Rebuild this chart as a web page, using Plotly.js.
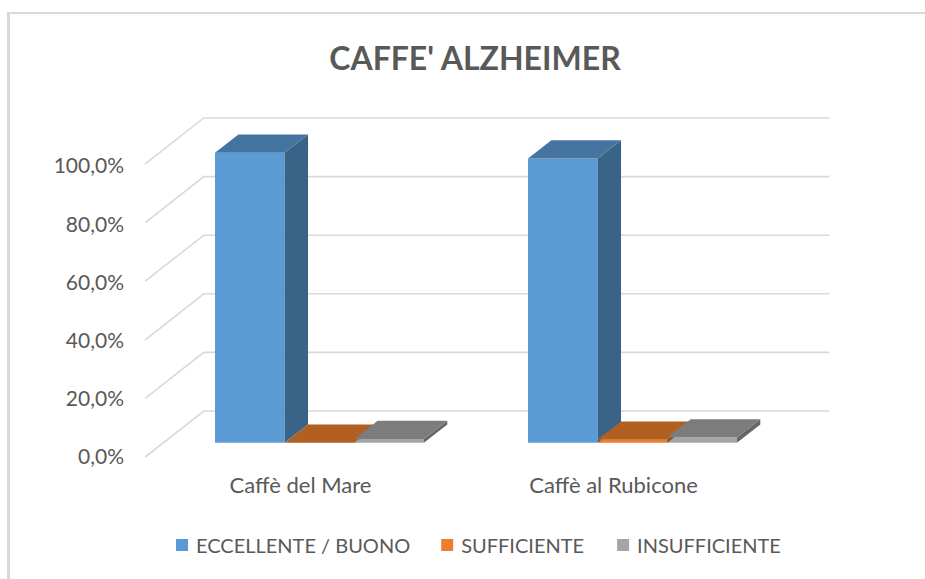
<!DOCTYPE html>
<html>
<head>
<meta charset="utf-8">
<script src="https://cdn.plot.ly/plotly-3.0.1.min.js"></script>
<style>
html,body{margin:0;padding:0;background:#fff;overflow:hidden}
#frame{position:absolute;left:7px;top:12px;right:0;bottom:0;border-left:3px solid #D9D9D9;border-top:2px solid #D9D9D9}
#chart{position:absolute;left:0;top:0;width:925px;height:579px}
</style>
</head>
<body>
<div id="frame"></div>
<div id="chart"></div>
<script>
// Data
const categories = ["Caffè del Mare", "Caffè al Rubicone"];
const seriesNames = ["ECCELLENTE / BUONO", "SUFFICIENTE", "INSUFFICIENTE"];
const eccellente = [100, 98];
const sufficiente = [0, 1];
const insufficiente = [1.3, 1.8];
const tickValues = [0, 20, 40, 60, 80, 100];
const tickLabels = ["0,0%", "20,0%", "40,0%", "60,0%", "80,0%", "100,0%"];

// Styles
const frontColors = ["#5B9BD5", "#ED7D31", "#A5A5A5"];
const topColors = ["#44749F", "#B25F22", "#7C7C7C"];
const sideColors = ["#3A6487", "#8F4C1C", "#666666"];
const textColor = "#595959";
const gridColor = "#D9D9D9";
const fontFamily = "Lato, sans-serif";

// Pseudo-3D geometry in axis units
const barWidth = 0.2225, barOffset = -0.2732, depthX = 0.0748, depthY = 6.28;
const wallFrontX = -0.496, wallBackX = -0.309, wallRightX = 1.69, wallDepth = 15.8, wallScale = 1.007;

const allSeries = [eccellente, sufficiente, insufficiente];
const traces = [];

tickValues.forEach(v => traces.push({
  type: "scatter", mode: "lines", xaxis: "x", yaxis: "y",
  x: [wallFrontX, wallBackX, wallRightX],
  y: [v * wallScale, v * wallScale + wallDepth, v * wallScale + wallDepth],
  line: {color: gridColor, width: 1.6}, showlegend: false, hoverinfo: "skip"
}));
allSeries.forEach((vals, s) => {
  const xs = categories.map((_, c) => c + barOffset + s * barWidth + barWidth / 2);
  traces.push({
    type: "bar", name: seriesNames[s], xaxis: "x", yaxis: "y2",
    x: xs, y: vals, width: barWidth,
    marker: {color: frontColors[s], line: {width: 0}}, hoverinfo: "skip"
  });
});
allSeries.forEach((vals, s) => {
  vals.forEach((v, c) => {
    const xL = c + barOffset + s * barWidth, xR = xL + barWidth;
    traces.push({
      type: "scatter", mode: "lines", fill: "toself", xaxis: "x", yaxis: "y2",
      x: [xR, xR + depthX, xR + depthX, xR, xR],
      y: [0, depthY, v + depthY, v, 0],
      fillcolor: sideColors[s], line: {width: 0}, showlegend: false, hoverinfo: "skip"
    });
    traces.push({
      type: "scatter", mode: "lines", fill: "toself", xaxis: "x", yaxis: "y2",
      x: [xL, xR, xR + depthX, xL + depthX, xL],
      y: [v, v, v + depthY, v + depthY, v],
      fillcolor: topColors[s], line: {width: 0}, showlegend: false, hoverinfo: "skip"
    });
  });
});

const layout = {
  width: 925, height: 579,
  margin: {l: 125, r: 85, t: 100, b: 109, pad: 0, autoexpand: false},
  paper_bgcolor: "rgba(0,0,0,0)", plot_bgcolor: "rgba(0,0,0,0)",
  font: {family: fontFamily, color: textColor, size: 18},
  title: {
    text: "<b>CAFFE' ALZHEIMER</b>",
    font: {family: fontFamily, size: 32, color: textColor},
    x: 475 / 925, xanchor: "center", xref: "container",
    y: 1 - 59 / 579, yanchor: "middle", yref: "container"
  },
  barmode: "overlay",
  xaxis: {
    type: "linear", range: [(125 - 300.5) / 313, (840 - 300.5) / 313],
    tickmode: "array", tickvals: [0, 1], ticktext: categories,
    showgrid: false, zeroline: false, showline: false, ticks: "",
    tickfont: {size: 22, color: textColor, family: fontFamily}
  },
  yaxis: {
    range: [(457 - 470) / 2.91, (457 - 100) / 2.91],
    tickmode: "array", tickvals: tickValues, ticktext: tickLabels,
    showgrid: false, zeroline: false, showline: false, ticks: "",
    tickfont: {size: 21, color: textColor, family: fontFamily}
  },
  yaxis2: {
    overlaying: "y", side: "left", anchor: "x",
    range: [(442.7 - 470) / 2.9, (442.7 - 100) / 2.9],
    showgrid: false, zeroline: false, showline: false, showticklabels: false, ticks: ""
  },
  legend: {
    orientation: "h", xref: "container", yref: "container",
    x: 156 / 925, xanchor: "left", y: 1 - 545 / 579, yanchor: "middle",
    font: {size: 20, color: textColor, family: fontFamily},
    bgcolor: "rgba(0,0,0,0)", traceorder: "normal"
  }
};

const legendNudge = [0, 6, 14];
Plotly.newPlot("chart", traces, layout, {staticPlot: true, displayModeBar: false}).then(gd => {
  const box = gd.querySelector(".legend .scrollbox");
  if (box) box.removeAttribute("clip-path");
  gd.querySelectorAll(".legend .legendpoints").forEach(p => {
    p.setAttribute("transform", "translate(6,0)");
  });
  gd.querySelectorAll(".legend .traces").forEach((t, i) => {
    const m = /translate\(\s*([-\d.]+)[ ,]+([-\d.]+)\s*\)/.exec(t.getAttribute("transform") || "");
    if (m) t.setAttribute("transform", `translate(${+m[1] + legendNudge[i]},${m[2]})`);
  });
});
</script>
</body>
</html>
